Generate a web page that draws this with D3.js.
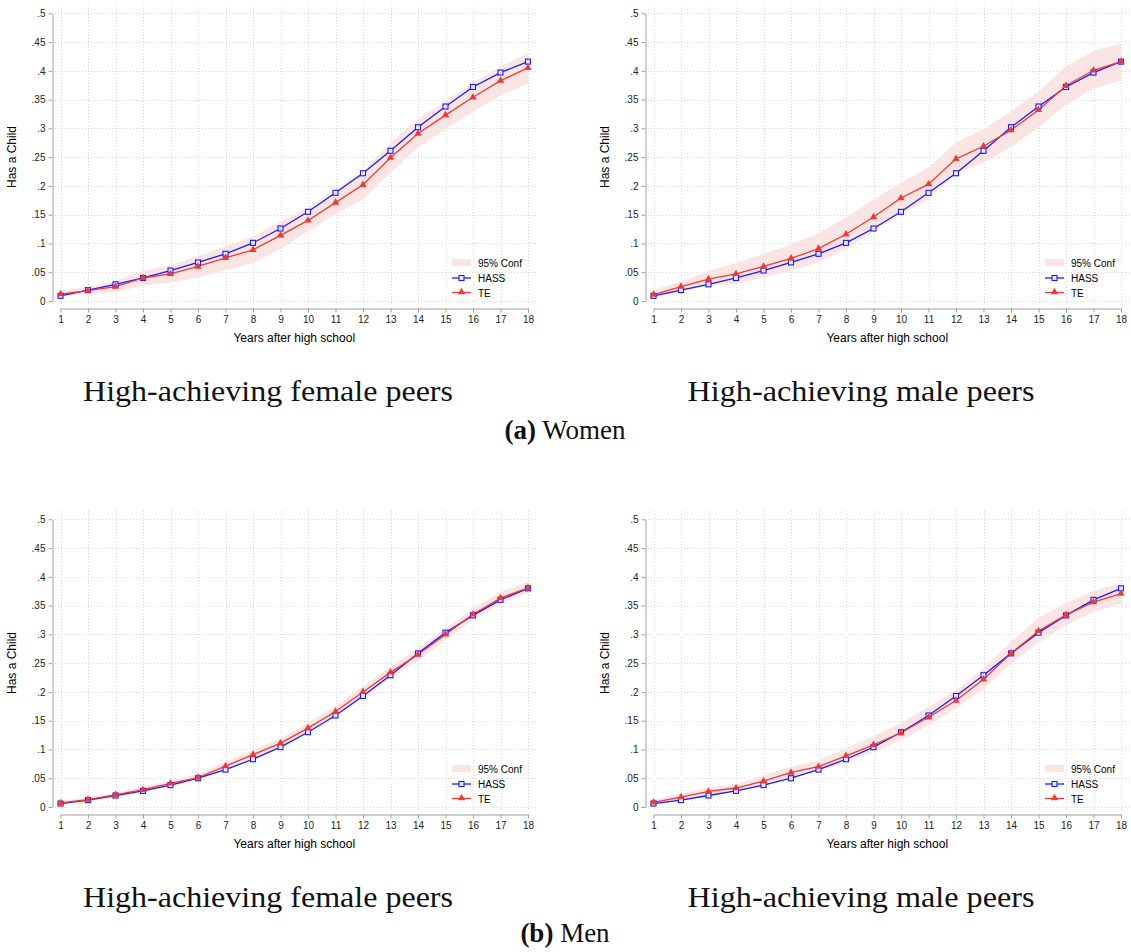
<!DOCTYPE html>
<html>
<head>
<meta charset="utf-8">
<script src="https://cdn.jsdelivr.net/npm/d3@7"></script>
<style>
  body { margin: 0; background: #fff; }
  svg { display: block; }
  .axis path, .axis line { stroke: #a0a0a0; }
  .axis text { font-family: 'Liberation Sans', Arial, sans-serif; font-size: 10px; fill: #222; }
  .grid line { stroke: #d8d8d8; stroke-dasharray: 1 2; }
  .cap { font-family: 'Liberation Serif', 'Times New Roman', serif; fill: #111; }
</style>
</head>
<body>
<div id="chart"></div>
<script>
let years = [1, 2, 3, 4, 5, 6, 7, 8, 9, 10, 11, 12, 13, 14, 15, 16, 17, 18]
let yTicks = [0, 0.05, 0.1, 0.15, 0.2, 0.25, 0.3, 0.35, 0.4, 0.45, 0.5]
let yTickLabels = ['0', '.05', '.1', '.15', '.2', '.25', '.3', '.35', '.4', '.45', '.5']

// (a) Women
let hassWomen = [0.009, 0.019, 0.029, 0.040, 0.053, 0.067, 0.082, 0.101, 0.126, 0.155, 0.188, 0.222, 0.261, 0.302, 0.338, 0.372, 0.397, 0.416]
let teWomenFemale = [0.012, 0.018, 0.025, 0.040, 0.047, 0.060, 0.075, 0.089, 0.114, 0.140, 0.171, 0.202, 0.249, 0.291, 0.323, 0.354, 0.383, 0.405]
let loWomenFemale = [0.008, 0.012, 0.015, 0.027, 0.032, 0.041, 0.054, 0.066, 0.091, 0.121, 0.151, 0.177, 0.223, 0.267, 0.299, 0.329, 0.357, 0.378]
let hiWomenFemale = [0.018, 0.024, 0.035, 0.052, 0.062, 0.078, 0.095, 0.112, 0.138, 0.162, 0.194, 0.225, 0.275, 0.316, 0.347, 0.379, 0.408, 0.431]
let teWomenMale = [0.011, 0.025, 0.038, 0.047, 0.060, 0.074, 0.091, 0.116, 0.146, 0.179, 0.203, 0.247, 0.269, 0.297, 0.332, 0.374, 0.401, 0.416]
let loWomenMale = [0.006, 0.017, 0.027, 0.030, 0.041, 0.053, 0.067, 0.091, 0.120, 0.152, 0.176, 0.222, 0.240, 0.268, 0.301, 0.341, 0.369, 0.383]
let hiWomenMale = [0.019, 0.034, 0.052, 0.066, 0.082, 0.098, 0.118, 0.145, 0.176, 0.206, 0.232, 0.276, 0.299, 0.329, 0.364, 0.408, 0.434, 0.448]

// (b) Men
let hassMen = [0.006, 0.012, 0.020, 0.028, 0.038, 0.050, 0.065, 0.083, 0.104, 0.130, 0.159, 0.193, 0.229, 0.267, 0.303, 0.333, 0.360, 0.380]
let teMenFemale = [0.007, 0.013, 0.021, 0.030, 0.041, 0.051, 0.071, 0.091, 0.111, 0.137, 0.166, 0.200, 0.234, 0.265, 0.300, 0.335, 0.363, 0.381]
let loMenFemale = [0.004, 0.010, 0.017, 0.026, 0.036, 0.046, 0.065, 0.084, 0.104, 0.129, 0.157, 0.190, 0.223, 0.254, 0.290, 0.325, 0.353, 0.372]
let hiMenFemale = [0.010, 0.017, 0.025, 0.035, 0.046, 0.057, 0.078, 0.099, 0.119, 0.146, 0.176, 0.210, 0.244, 0.276, 0.311, 0.345, 0.374, 0.391]
let teMenMale = [0.008, 0.017, 0.027, 0.033, 0.045, 0.060, 0.070, 0.089, 0.108, 0.129, 0.156, 0.185, 0.222, 0.267, 0.306, 0.334, 0.356, 0.371]
let loMenMale = [0.004, 0.012, 0.021, 0.027, 0.037, 0.052, 0.062, 0.078, 0.095, 0.116, 0.142, 0.171, 0.205, 0.249, 0.286, 0.316, 0.339, 0.353]
let hiMenMale = [0.012, 0.023, 0.034, 0.039, 0.055, 0.070, 0.081, 0.102, 0.123, 0.146, 0.174, 0.203, 0.241, 0.287, 0.329, 0.355, 0.375, 0.390]

let legendLabels = ['95% Conf', 'HASS', 'TE']
let blue = '#1a1aff', red = '#ee3a32', pink = '#fbe4e4'

let svg = d3.select('#chart')
    .append('svg')
    .attr('width', 1131)
    .attr('height', 952)

let panels = [
    { dx: 0, dy: 0, hass: hassWomen, te: teWomenFemale, lo: loWomenFemale, hi: hiWomenFemale, title: 'High-achieving female peers', tx: 268, tw: 370 },
    { dx: 593, dy: 0, hass: hassWomen, te: teWomenMale, lo: loWomenMale, hi: hiWomenMale, title: 'High-achieving male peers', tx: 861, tw: 347 },
    { dx: 0, dy: 506, hass: hassMen, te: teMenFemale, lo: loMenFemale, hi: hiMenFemale, title: 'High-achieving female peers', tx: 268, tw: 370 },
    { dx: 593, dy: 506, hass: hassMen, te: teMenMale, lo: loMenMale, hi: hiMenMale, title: 'High-achieving male peers', tx: 861, tw: 347 }
]

let xScale = d3.scaleLinear().domain([1, 18]).range([60.5, 528])
let yScale = d3.scaleLinear().domain([0, 0.5]).range([301, 13.3])

panels.forEach(p => {
    let g = svg.append('g').attr('transform', `translate(${p.dx},${p.dy})`)

    // dotted grid
    let grid = g.append('g').attr('class', 'grid')
    grid.selectAll('.hg').data(yTicks).enter().append('line')
        .attr('x1', 55).attr('x2', 537)
        .attr('y1', d => Math.round(yScale(d)) + 0.5).attr('y2', d => Math.round(yScale(d)) + 0.5)
    grid.selectAll('.vg').data(years).enter().append('line')
        .attr('y1', 5).attr('y2', 305)
        .attr('x1', d => Math.round(xScale(d)) + 0.5).attr('x2', d => Math.round(xScale(d)) + 0.5)

    // axes
    let yAxis = d3.axisLeft(yScale).tickValues(yTicks)
        .tickFormat((d, i) => yTickLabels[i]).tickSize(4).tickSizeOuter(0).tickPadding(3)
    g.append('g').attr('class', 'axis').attr('transform', 'translate(52.5,0)').call(yAxis)

    let xAxis = d3.axisBottom(xScale).tickValues(years).tickSize(4).tickSizeOuter(0).tickPadding(3)
    g.append('g').attr('class', 'axis').attr('transform', 'translate(0,308.5)').call(xAxis)

    g.append('text')
        .attr('transform', 'translate(16,157) rotate(-90)')
        .attr('text-anchor', 'middle')
        .style('font-family', "'Liberation Sans', Arial, sans-serif")
        .style('font-size', '12px')
        .text('Has a Child')
    g.append('text')
        .attr('x', (xScale(1) + xScale(18)) / 2).attr('y', 342)
        .attr('text-anchor', 'middle')
        .style('font-family', "'Liberation Sans', Arial, sans-serif")
        .style('font-size', '12px')
        .text('Years after high school')

    // confidence band
    let area = d3.area()
        .x((d, i) => xScale(years[i]))
        .y0((d, i) => yScale(p.lo[i]))
        .y1((d, i) => yScale(p.hi[i]))
    g.append('path').datum(p.lo).attr('d', area).attr('fill', pink)

    let line = d3.line().x((d, i) => xScale(years[i])).y(d => yScale(d))

    g.append('path').datum(p.hass).attr('d', line)
        .attr('fill', 'none').attr('stroke', blue).attr('stroke-width', 1.3)
    g.append('path').datum(p.te).attr('d', line)
        .attr('fill', 'none').attr('stroke', red).attr('stroke-width', 1.3)

    g.selectAll('.sq').data(p.hass).enter().append('rect')
        .attr('x', (d, i) => xScale(years[i]) - 2.5)
        .attr('y', d => yScale(d) - 2.5)
        .attr('width', 5).attr('height', 5)
        .attr('fill', '#e8e8ff').attr('stroke', blue).attr('stroke-width', 1.1)

    let tri = d3.symbol().type(d3.symbolTriangle).size(24)
    g.selectAll('.tri').data(p.te).enter().append('path')
        .attr('d', tri)
        .attr('transform', (d, i) => `translate(${xScale(years[i])},${yScale(d)})`)
        .attr('fill', red)

    // legend
    let lg = g.append('g').attr('transform', 'translate(452,0)')
    lg.append('rect').attr('x', 0).attr('y', 259).attr('width', 19).attr('height', 7).attr('fill', pink)
    lg.append('line').attr('x1', 0).attr('x2', 19).attr('y1', 278).attr('y2', 278)
        .attr('stroke', blue).attr('stroke-width', 1.3)
    lg.append('rect').attr('x', 7).attr('y', 275.5).attr('width', 5).attr('height', 5)
        .attr('fill', '#e8e8ff').attr('stroke', blue).attr('stroke-width', 1.1)
    lg.append('line').attr('x1', 0).attr('x2', 19).attr('y1', 292.5).attr('y2', 292.5)
        .attr('stroke', red).attr('stroke-width', 1.3)
    lg.append('path').attr('d', tri).attr('transform', 'translate(9.5,292)').attr('fill', red)
    lg.selectAll('.lt').data(legendLabels).enter().append('text')
        .attr('x', 26)
        .attr('y', (d, i) => 266.5 + i * 15)
        .style('font-family', "'Liberation Sans', Arial, sans-serif")
        .style('font-size', '10px')
        .text(d => d)

    // sub-figure caption
    g.append('text').attr('class', 'cap')
        .attr('x', p.tx - p.dx).attr('y', 401)
        .attr('text-anchor', 'middle')
        .attr('textLength', p.tw).attr('lengthAdjust', 'spacingAndGlyphs')
        .style('font-size', '29px')
        .text(p.title)
})

let subCaps = [{ tag: '(a)', word: ' Women', y: 439 }, { tag: '(b)', word: ' Men', y: 942 }]
subCaps.forEach(c => {
    let t = svg.append('text').attr('class', 'cap')
        .attr('x', 565).attr('y', c.y)
        .attr('text-anchor', 'middle')
        .style('font-size', '27px')
    t.append('tspan').style('font-weight', 'bold').text(c.tag)
    t.append('tspan').text(c.word)
})
</script>
</body>
</html>
